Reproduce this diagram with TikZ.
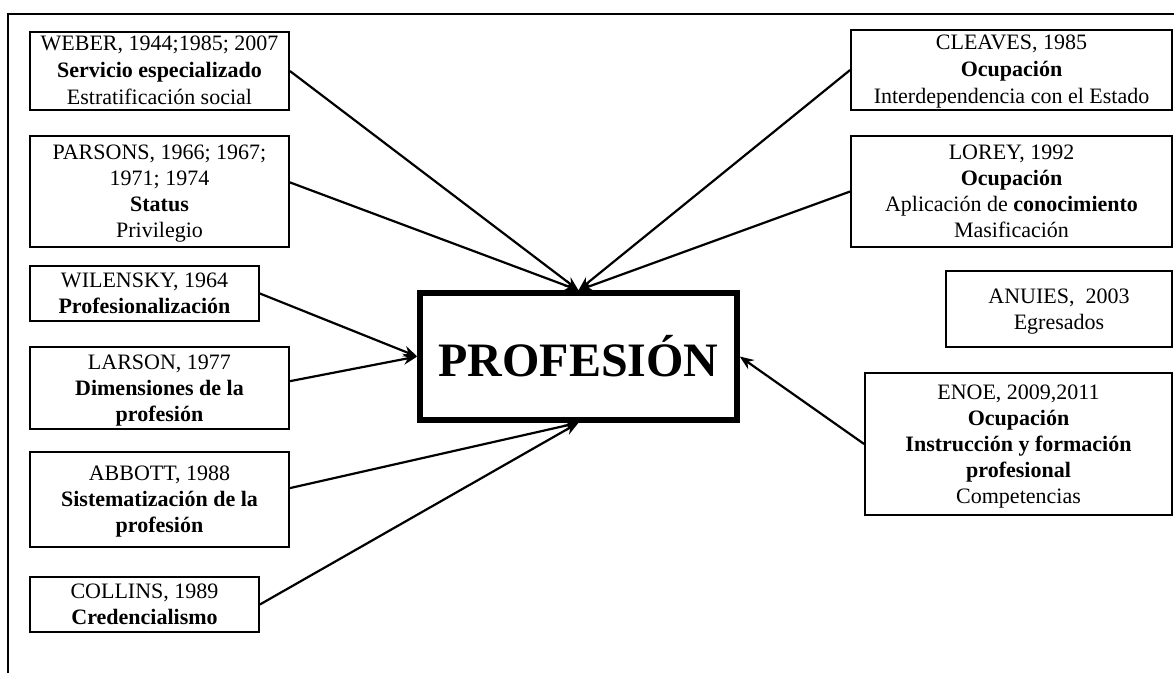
\documentclass[tikz,border=0pt]{standalone}
\usepackage{fontspec}
\setmainfont{Liberation Serif}
\usetikzlibrary{arrows.meta}
\newcommand{\tallline}{\rule{0pt}{20pt}}
\newcommand{\shortline}{\rule{0pt}{18pt}}
\begin{document}
\begin{tikzpicture}[x=1pt,y=-1pt]
\useasboundingbox (0,0) rectangle (1174,673);
\draw[line width=1.8pt] (8,673) -- (8,14) -- (1174,14);
\tikzstyle{src}=[draw, line width=1.8pt, align=center, inner sep=0pt, font=\fontsize{22}{26}\selectfont, execute at end node={\rule[-6pt]{0pt}{0pt}}]
\tikzstyle{wide}=[font=\fontsize{22}{27}\selectfont]
\node[src, wide, minimum width=259pt, minimum height=78pt](weber) at (159.5,71){\shortline WEBER, 1944;1985; 2007\\\textbf{Servicio especializado}\\Estratificación social};
\node[src, minimum width=259pt, minimum height=111pt](parsons) at (159.5,191.5){\tallline PARSONS, 1966; 1967;\\1971; 1974\\\textbf{Status}\\Privilegio};
\node[src, minimum width=229pt, minimum height=55pt](wilensky) at (144.5,293.5){\tallline WILENSKY, 1964\\\textbf{Profesionalización}};
\node[src, minimum width=259pt, minimum height=82pt](larson) at (159.5,388){\tallline LARSON, 1977\\\textbf{Dimensiones de la}\\\textbf{profesión}};
\node[src, minimum width=259pt, minimum height=95pt](abbott) at (159.5,499.5){\tallline ABBOTT, 1988\\\textbf{Sistematización de la}\\\textbf{profesión}};
\node[src, minimum width=229pt, minimum height=55pt](collins) at (144.5,604.5){\tallline COLLINS, 1989\\\textbf{Credencialismo}};
\node[src, wide, minimum width=321pt, minimum height=80pt](cleaves) at (1011.5,70){\shortline CLEAVES, 1985\\\textbf{Ocupación}\\Interdependencia con el Estado};
\node[src, minimum width=321pt, minimum height=111pt](lorey) at (1011.5,191.5){\tallline LOREY, 1992\\\textbf{Ocupación}\\Aplicación de \textbf{conocimiento}\\Masificación};
\node[src, minimum width=226pt, minimum height=76pt](anuies) at (1059,309){\tallline ANUIES,\ \ 2003\\Egresados};
\node[src, minimum width=307pt, minimum height=142pt](enoe) at (1018.5,444){\tallline ENOE, 2009,2011\\\textbf{Ocupación}\\\textbf{Instrucción y formación}\\\textbf{profesional}\\Competencias};
\node[draw, line width=5.5pt, minimum width=317pt, minimum height=127pt, font=\fontsize{48}{56}\selectfont\bfseries](prof) at (578.5,356.5){PROFESIÓN};
% connectors into the centre box
\foreach \i/\j in {weber.east/prof.north, parsons.4/prof.north, cleaves.west/prof.north, lorey.west/prof.north, wilensky.east/prof.west, larson.3/prof.west, abbott.5/prof.south, collins.east/prof.south, enoe.west/prof.east}{\draw[line width=2.2pt, -{Stealth[length=14pt,width=11pt]}] (\i) -- (\j);}
\end{tikzpicture}
\end{document}
